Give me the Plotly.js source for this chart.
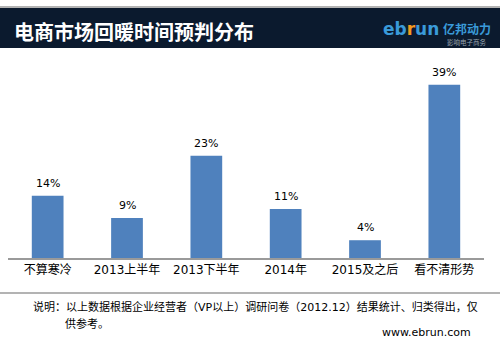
<!DOCTYPE html>
<html>
<head>
<meta charset="utf-8">
<script src="https://cdn.plot.ly/plotly-3.0.1.min.js"></script>
<style>html,body{margin:0;padding:0;background:#fff;}#chart{width:500px;height:350px;}</style>
</head>
<body>
<div id="chart"></div>
<script>
var categories = ["不算寒冷", "2013上半年", "2013下半年", "2014年", "2015及之后", "看不清形势"];
var values = [14, 9, 23, 11, 4, 39];
var valueLabels = ["14%", "9%", "23%", "11%", "4%", "39%"];
var titleText = "电商市场回暖时间预判分布";
var noteLine1 = "说明：以上数据根据企业经营者（VP以上）调研问卷（2012.12）结果统计、归类得出，仅";
var noteLine2 = "供参考。";
var siteText = "www.ebrun.com";

var W = 500, H = 350;
var M = {l: 8, r: 16, t: 58, b: 92};
var PW = W - M.l - M.r, PH = H - M.t - M.b;
function px(x) { return (x - M.l) / PW; }
function py(y) { return (H - M.b - y) / PH; }

var FONT = "DejaVu Sans, Noto Sans CJK SC, sans-serif";
var CJK = "Noto Sans CJK SC, sans-serif";

var trace = {
  type: "bar",
  x: categories,
  y: values,
  marker: {color: "#4f81bd"},
  width: 0.4,
  hoverinfo: "none"
};

var annotations = [];
for (var i = 0; i < categories.length; i++) {
  annotations.push({
    x: categories[i], y: values[i], xref: "x", yref: "y",
    text: valueLabels[i], showarrow: false, yanchor: "bottom", yshift: 4,
    font: {family: FONT, size: 11, color: "#000"}
  });
}
annotations.push({
  xref: "paper", yref: "paper", x: px(12), y: py(31), xanchor: "left", yanchor: "middle",
  text: "<b>" + titleText + "</b>", showarrow: false,
  font: {family: CJK, size: 20, color: "#ffffff"}
});
annotations.push({
  xref: "paper", yref: "paper", x: px(382), y: py(29), xanchor: "left", yanchor: "middle",
  text: "<b>eb<span style='color:#f39a1e'>r</span>un</b>", showarrow: false, borderpad: 0,
  font: {family: "Verdana, DejaVu Sans, sans-serif", size: 17, color: "#3a9ad9"}
});
annotations.push({
  xref: "paper", yref: "paper", x: px(492), y: py(29), xanchor: "right", yanchor: "middle",
  text: "<b>亿邦动力</b>", showarrow: false, borderpad: 0,
  font: {family: CJK, size: 12, color: "#3a9ad9"}
});
annotations.push({
  xref: "paper", yref: "paper", x: px(488), y: py(42), xanchor: "right", yanchor: "middle",
  text: "影响电子商务", showarrow: false, borderpad: 0,
  font: {family: CJK, size: 6.5, color: "#9aa6b2"}
});
annotations.push({
  xref: "paper", yref: "paper", x: px(31), y: py(307), xanchor: "left", yanchor: "middle",
  text: noteLine1, showarrow: false,
  font: {family: FONT, size: 11, color: "#000"}
});
annotations.push({
  xref: "paper", yref: "paper", x: px(63), y: py(324), xanchor: "left", yanchor: "middle",
  text: noteLine2, showarrow: false,
  font: {family: FONT, size: 11, color: "#000"}
});
annotations.push({
  xref: "paper", yref: "paper", x: px(473), y: py(332), xanchor: "right", yanchor: "middle",
  text: siteText, showarrow: false,
  font: {family: FONT, size: 11, color: "#000"}
});

var shapes = [
  {type: "rect", xref: "paper", yref: "paper", x0: px(0), x1: px(500), y0: py(48), y1: py(8),
   fillcolor: "#0b1a2e", line: {width: 0}, layer: "below"},
  {type: "line", xref: "paper", yref: "paper", x0: px(0), x1: px(500), y0: py(7), y1: py(7),
   line: {color: "#9a9a9a", width: 1.5}},
  {type: "line", xref: "paper", yref: "paper", x0: px(0), x1: px(500), y0: py(293), y1: py(293),
   line: {color: "#9a9a9a", width: 1.5}}
];

var layout = {
  width: W, height: H,
  margin: M,
  paper_bgcolor: "#ffffff",
  plot_bgcolor: "#ffffff",
  showlegend: false,
  bargap: 0.6,
  xaxis: {
    showline: true, linecolor: "#9a9a9a", linewidth: 1.5,
    showgrid: false, zeroline: false, ticks: "", fixedrange: true,
    tickfont: {family: FONT, size: 12, color: "#000"}
  },
  yaxis: {
    range: [0, 45], visible: false, showgrid: false, zeroline: false, fixedrange: true
  },
  annotations: annotations,
  shapes: shapes
};

Plotly.newPlot("chart", [trace], layout, {displayModeBar: false, staticPlot: true});
</script>
</body>
</html>
